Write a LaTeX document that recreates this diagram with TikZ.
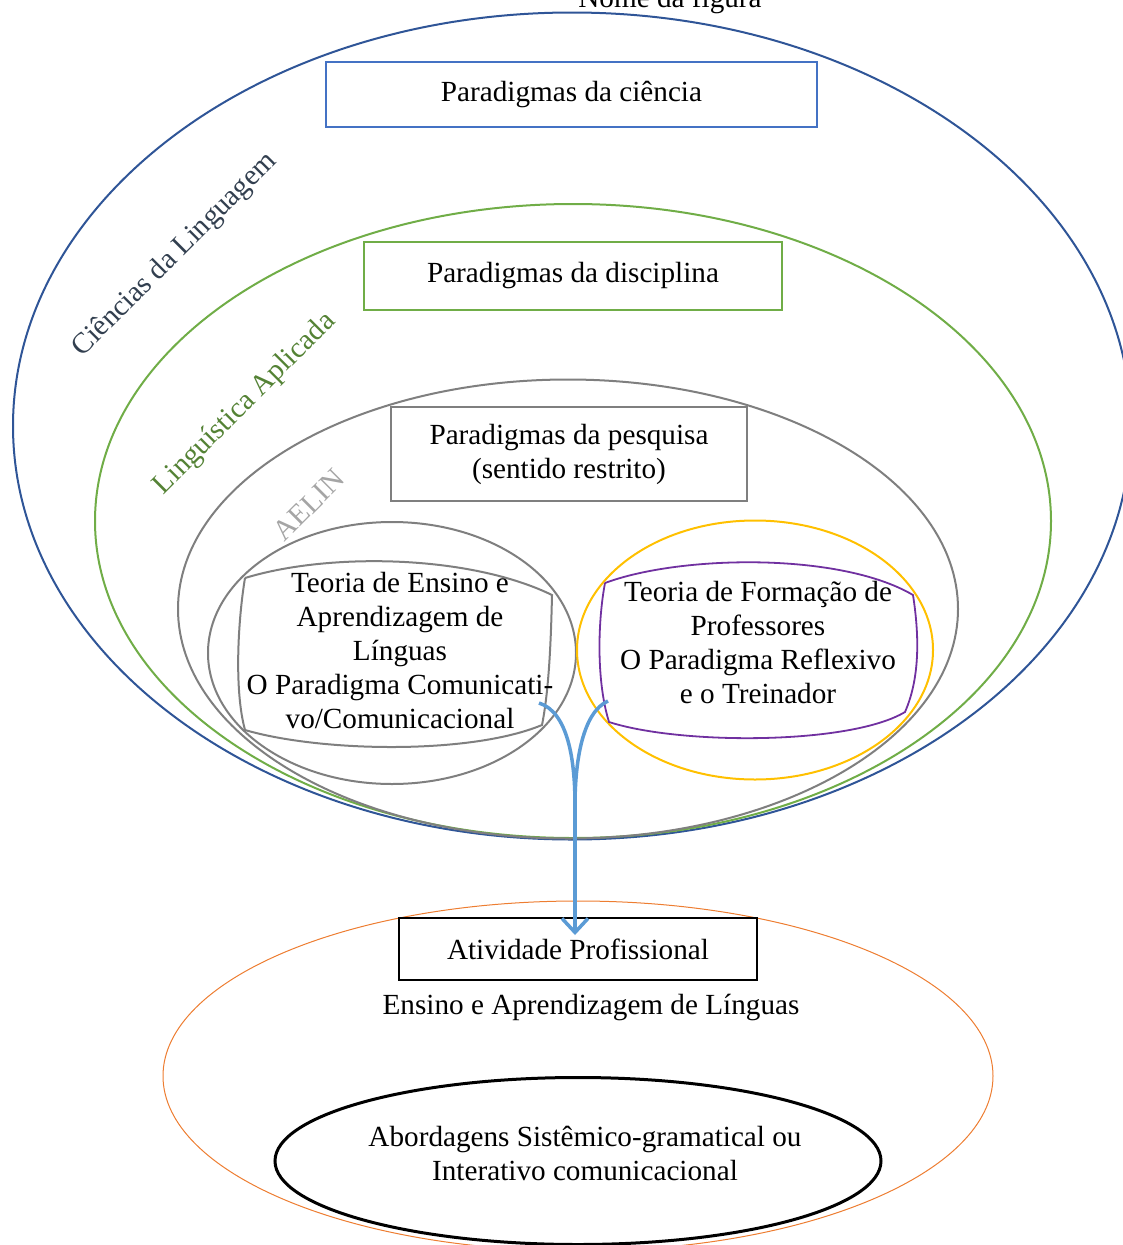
\documentclass[tikz,border=0pt]{standalone}
\usepackage{fontspec}
\setmainfont{Liberation Serif}
\usetikzlibrary{shapes.geometric,arrows.meta}
\definecolor{cblue}{HTML}{2F5597}
\definecolor{cbox}{HTML}{4472C4}
\definecolor{cgreen}{HTML}{70AD47}
\definecolor{cgray}{HTML}{7F7F7F}
\definecolor{cyellow}{HTML}{FFC000}
\definecolor{cpurple}{HTML}{7030A0}
\definecolor{corange}{HTML}{ED7D31}
\definecolor{carrow}{HTML}{5B9BD5}
\definecolor{tnavy}{HTML}{323F4F}
\definecolor{tgreen}{HTML}{548235}
\definecolor{tgray}{HTML}{A5A5A5}
\begin{document}
\begin{tikzpicture}[x=1pt,y=-1pt,
  every node/.style={font=\fontsize{29.2}{34}\selectfont, inner sep=0pt},
  ring/.style={ellipse, draw, line width=2pt},
  pbox/.style={rectangle, draw, fill=white, line width=2pt, align=center},
  lbl/.style={rotate=45, anchor=center},
  flow/.style={draw=carrow, line width=3.5pt},
]
\useasboundingbox (0,0) rectangle (1123,1245);
\clip (0,0) rectangle (1123,1245);

% title (cut off)
\node[anchor=base] (title) at (670,7) {Nome da figura};

% nested ellipses
\node[ring, draw=cblue, minimum width=1118pt, minimum height=827pt] (cl) at (572,426) {};
\node[ring, draw=cgreen, minimum width=956pt, minimum height=634pt] (la) at (573,521) {};
\node[ring, draw=cgray, minimum width=780pt, minimum height=459pt] (ae) at (568,609) {};
\node[ring, draw=cgray, minimum width=368pt, minimum height=262pt] (te) at (392,653) {};
\node[ring, draw=cyellow, minimum width=356pt, minimum height=259pt] (tf) at (755,650) {};

% bottom ellipses
\node[ellipse, draw=corange, line width=1pt, minimum width=830pt, minimum height=350pt] (ea) at (578,1076) {};
\node[ellipse, draw=black, line width=3pt, minimum width=606pt, minimum height=167pt] (ab) at (578,1161) {};
\node[align=center] (abt) at (585,1153) {Abordagens Sistêmico-gramatical ou\\Interativo comunicacional};

% rotated labels
\node[lbl, text=tnavy] (lcl) at (175,255) {Ciências da Linguagem};
\node[lbl, text=tgreen] (lla) at (245,404) {Linguística Aplicada};
\node[lbl, text=tgray] (lae) at (309,505) {AELIN};

% boxes
\node[pbox, draw=cbox, minimum width=491pt, minimum height=65pt] (pc) at (571.5,94.5) {Paradigmas da ciência};
\node[pbox, draw=cgreen, minimum width=418pt, minimum height=68pt] (pd) at (573,276) {Paradigmas da disciplina};
\node[pbox, draw=cgray, minimum width=356pt, minimum height=94pt] (pp) at (569,454) {Paradigmas da pesquisa\\(sentido restrito)};

% irregular inner shapes
\draw[cgray, line width=2pt]
  (245,578) .. controls (330,552) and (470,555) .. (552,595)
  .. controls (551,640) and (549,690) .. (542,725)
  .. controls (470,755) and (320,752) .. (245,730)
  .. controls (234,690) and (238,620) .. (245,578);
\node[align=center] (tet) at (400,651) {Teoria de Ensino e\\Aprendizagem de\\Línguas\\O Paradigma Comunicati-\\vo/Comunicacional};

\draw[cpurple, line width=1.8pt]
  (605,583) .. controls (680,555) and (840,552) .. (913,595)
  .. controls (920,640) and (919,680) .. (905,712)
  .. controls (850,745) and (680,745) .. (609,722)
  .. controls (596,680) and (598,620) .. (605,583);
\node[align=center] (tft) at (758,643) {Teoria de Formação de\\Professores\\O Paradigma Reflexivo\\e o Treinador};

% target box
\node[pbox, draw=black, minimum width=358pt, minimum height=62pt] (ap) at (578,949) {Atividade Profissional};
\node (eal) at (591,1007) {Ensino e Aprendizagem de Línguas};

% connector
\coordinate (aL) at (539,703);
\coordinate (aR) at (608,701);
\coordinate (j) at (575,805);
\coordinate (tip) at (575,935);
\draw[flow] (aL) .. controls (568,712) and (575,760) .. (j);
\draw[flow] (aR) .. controls (583,712) and (575,760) .. (j);
\draw[flow, -{Straight Barb[length=14pt,width=26pt]}] (575,790) -- (tip);
\end{tikzpicture}
\end{document}
